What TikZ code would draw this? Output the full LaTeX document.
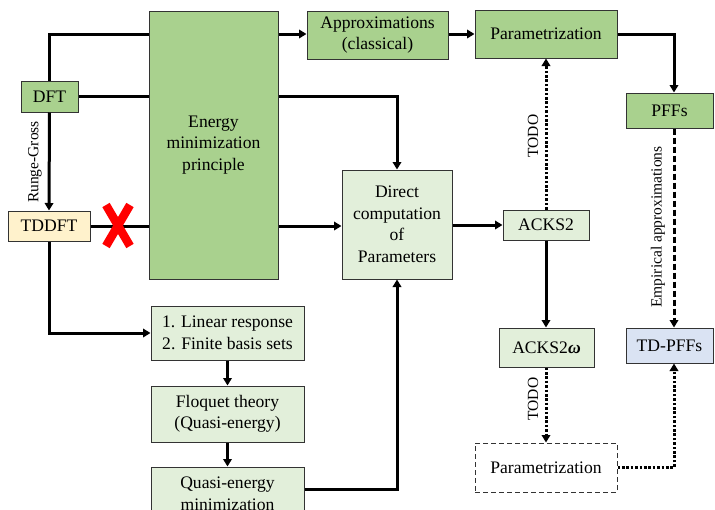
\documentclass[tikz,border=0pt]{standalone}
\usepackage{fontspec}
\setmainfont{Liberation Serif}
\usetikzlibrary{arrows.meta}
\definecolor{dgreen}{HTML}{A9D18E}
\definecolor{lgreen}{HTML}{E2EFDA}
\definecolor{lyellow}{HTML}{FFF2CC}
\definecolor{lblue}{HTML}{DAE3F3}
\definecolor{bordc}{HTML}{333333}
\tikzset{
  box/.style={draw=bordc, line width=1pt, inner sep=0pt, align=center,
    font=\fontsize{17.6}{21.5}\selectfont},
  conn/.style={line width=3pt},
  arr/.style={conn, -{Triangle[length=7.5pt,width=8.5pt]}},
  dotarr/.style={arr, dash pattern=on 2.6pt off 1.8pt},
  dasharr/.style={arr, dash pattern=on 6pt off 3pt},
  lbl/.style={font=\fontsize{15.5}{18}\selectfont, inner sep=0pt},
}
\begin{document}
\begin{tikzpicture}[x=1pt,y=-1pt]
\useasboundingbox (0,0) rectangle (715,509);
\clip (0,0) rectangle (715,509);
% nodes
\node[box, fill=dgreen, minimum width=129pt, minimum height=268pt] (energy) at (213.5,145) {Energy\\minimization\\principle};
\node[box, fill=dgreen, minimum width=141pt, minimum height=48pt] (approx) at (377.5,35) {Approximations\\(classical)};
\node[box, fill=dgreen, minimum width=142pt, minimum height=48pt] (param) at (546,34) {Parametrization};
\node[box, fill=dgreen, minimum width=87pt, minimum height=35pt] (pffs) at (669.5,110.5) {PFFs};
\node[box, fill=dgreen, minimum width=57pt, minimum height=31pt] (dft) at (49.5,96.5) {DFT};
\node[box, fill=lyellow, minimum width=82pt, minimum height=30pt] (tddft) at (49,226) {TDDFT};
\node[box, fill=lgreen, minimum width=110pt, minimum height=109pt] (direct) at (397,224.5) {Direct\\computation\\of\\Parameters};
\node[box, fill=lgreen, minimum width=86pt, minimum height=30pt] (acks) at (546,225) {ACKS2};
\node[box, fill=lgreen, minimum width=95pt, minimum height=39pt] (acksw) at (546.5,347.5) {ACKS2{\bfseries\itshape ω}};
\node[box, dash pattern=on 5pt off 3pt, minimum width=142pt, minimum height=49pt] (dparam) at (546,467.5) {Parametrization};
\node[box, fill=lblue, minimum width=87pt, minimum height=35pt] (tdpffs) at (669.5,345.5) {TD-PFFs};
\node[box, fill=lgreen, minimum width=153pt, minimum height=54pt] (linear) at (227.5,333) {1. Linear response\\2. Finite basis sets};
\node[box, fill=lgreen, minimum width=153pt, minimum height=56pt] (floquet) at (227.5,414) {Floquet theory\\(Quasi-energy)};
\node[box, fill=lgreen, minimum width=153pt, minimum height=54pt] (quasi) at (227.5,494) {Quasi-energy\\minimization};
\coordinate (px) at (674,0);
% labels
\node[lbl, rotate=90] (rg) at (35,162) {Runge-Gross};
\node[lbl, rotate=90] (todo1) at (533,136) {TODO};
\node[lbl, rotate=90] (todo2) at (533,399) {TODO};
\node[lbl, rotate=90] (emp) at (658,227) {Empirical approximations};
% connectors
\draw[conn] (dft.north) |- (energy.west |- param.west);
\draw[arr] (energy.east |- param.west) -- (approx.west |- param.west);
\draw[arr] (approx.east |- param.west) -- (param.west);
\draw[arr] (param.east) -| (pffs.north -| px);
\draw[conn] (dft.east) -- (energy.west |- dft.east);
\draw[arr] (energy.east |- dft.east) -| (direct.north);
\draw[arr] (dft.south) -- (tddft.north);
\draw[conn] (tddft.east) -- (energy.west |- tddft.east);
\draw[arr] (energy.east |- tddft.east) -- (direct.west |- tddft.east);
\draw[arr] (direct.east |- acks.west) -- (acks.west);
\draw[dotarr] (acks.north) -- (param.south);
\draw[arr] (acks.south) -- (acksw.north -| acks.south);
\draw[dotarr] (acksw.south -| acks.south) -- (dparam.north);
\draw[dotarr] (dparam.east) -| (tdpffs.south -| px);
\draw[dasharr] (pffs.south -| px) -- (tdpffs.north -| px);
\draw[arr] (tddft.south) |- (linear.west);
\draw[arr] (linear.south) -- (floquet.north);
\draw[arr] (floquet.south) -- (quasi.north);
\draw[arr] ([yshift=5pt]quasi.east) -| (direct.south);
% red cross
\draw[red, line width=8.5pt] (106,205) -- (130,246) (130,205) -- (106,246);
\end{tikzpicture}
\end{document}
